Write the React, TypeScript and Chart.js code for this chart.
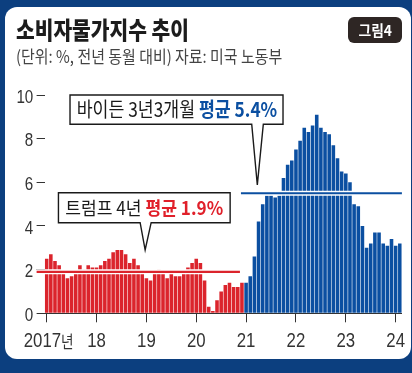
import { useEffect, useRef } from 'react';
import { Chart, registerables } from 'chart.js';

Chart.register(...registerables);

// ---- data (US CPI, % YoY) ----
const START_YEAR = 2017;
const TRUMP_CPI = [
  2.5, 2.7, 2.4, 2.2, 1.9, 1.6, 1.7, 1.9, 2.2, 2.0, 2.2, 2.1,
  2.1, 2.2, 2.4, 2.5, 2.8, 2.9, 2.9, 2.7, 2.3, 2.5, 2.2, 1.9,
  1.6, 1.5, 1.9, 2.0, 1.8, 1.6, 1.8, 1.7, 1.7, 1.8, 2.1, 2.3,
  2.5, 2.3, 1.5, 0.3, 0.1, 0.6, 1.0, 1.3, 1.4, 1.2, 1.2, 1.4,
];
const BIDEN_CPI = [
  1.4, 1.7, 2.6, 4.2, 5.0, 5.4, 5.4, 5.3, 5.4, 6.2, 6.8, 7.0,
  7.5, 7.9, 8.5, 8.3, 8.6, 9.1, 8.5, 8.3, 8.2, 7.7, 7.1, 6.5,
  6.4, 6.0, 5.0, 4.9, 4.0, 3.0, 3.2, 3.7, 3.7, 3.2, 3.1, 3.4,
  3.1, 3.2,
];
const YEAR_TICK_LABELS = ['2017년', '18', '19', '20', '21', '22', '23', '24'];
const Y_MIN = 0;
const Y_MAX = 10;
const Y_STEP = 2;
const TRUMP_AVG_LEVEL = 1.9;
const BIDEN_AVG_LEVEL = 5.5;
const TRUMP_LABEL = ['트럼프 4년 ', '평균 1.9%'];
const BIDEN_LABEL = ['바이든 3년3개월 ', '평균 5.4%'];

const MONTH_LABELS = [...TRUMP_CPI, ...BIDEN_CPI].map(
  (_, i) => `${START_YEAR + Math.floor(i / 12)}-${String((i % 12) + 1).padStart(2, '0')}`
);

// ---- styles ----
const RED = '#db242c';
const BLUE = '#0b4fa1';
const NAVY = '#0c3f7f';
const AXIS = '#333333';

type Part = { text: string; color: string; bold: boolean };
type Callout = {
  tipIndex: number;
  tipValue: number;
  box: { l: number; r: number; t: number; b: number };
  base: [number, number];
  parts: Part[];
  fontSize: number;
  textWidth: number;
  inset: number;
};

const CALLOUTS: Callout[] = [
  {
    tipIndex: 50.7,
    tipValue: 5.88,
    box: { l: -187.3, r: 25.7, t: -90, b: -60.7 },
    base: [-5.6, 6],
    parts: [
      { text: BIDEN_LABEL[0], color: '#1a1a1a', bold: false },
      { text: BIDEN_LABEL[1], color: BLUE, bold: true },
    ],
    fontSize: 20,
    textWidth: 200.5,
    inset: 6.7,
  },
  {
    tipIndex: 23.7,
    tipValue: 2.9,
    box: { l: -86.7, r: 85, t: -57.3, b: -27.3 },
    base: [-5, 6],
    parts: [
      { text: TRUMP_LABEL[0], color: '#1a1a1a', bold: false },
      { text: TRUMP_LABEL[1], color: '#e0202a', bold: true },
    ],
    fontSize: 18.5,
    textWidth: 158,
    inset: 6.7,
  },
];

const CJK = '"Noto Sans CJK KR", "Noto Sans", sans-serif';
const LATIN = '"Liberation Sans", Arial, sans-serif';

function drawCallout(ctx: CanvasRenderingContext2D, chart: any, c: Callout) {
  const xs = chart.scales.x;
  const ys = chart.scales.y;
  const tx = xs.getPixelForValue(c.tipIndex);
  const ty = ys.getPixelForValue(c.tipValue);
  const l = tx + c.box.l, r = tx + c.box.r, t = ty + c.box.t, b = ty + c.box.b;
  ctx.save();
  ctx.beginPath();
  ctx.moveTo(l, t);
  ctx.lineTo(r, t);
  ctx.lineTo(r, b);
  ctx.lineTo(tx + c.base[1], b);
  ctx.lineTo(tx, ty);
  ctx.lineTo(tx + c.base[0], b);
  ctx.lineTo(l, b);
  ctx.closePath();
  ctx.fillStyle = '#ffffff';
  ctx.fill();
  ctx.lineWidth = 1.4;
  ctx.strokeStyle = '#1a1a1a';
  ctx.lineJoin = 'miter';
  ctx.stroke();

  let total = 0;
  for (const p of c.parts) {
    ctx.font = `${p.bold ? 'bold ' : ''}${c.fontSize}px ${CJK}`;
    total += ctx.measureText(p.text).width;
  }
  const sx = c.textWidth / total;
  let x = l + c.inset;
  const y = (t + b) / 2;
  ctx.textBaseline = 'middle';
  ctx.textAlign = 'left';
  for (const p of c.parts) {
    ctx.font = `${p.bold ? 'bold ' : ''}${c.fontSize}px ${CJK}`;
    const w = ctx.measureText(p.text).width;
    ctx.save();
    ctx.translate(x, y);
    ctx.scale(sx, 1);
    ctx.fillStyle = p.color;
    ctx.fillText(p.text, 0, 0);
    ctx.restore();
    x += w * sx;
  }
  ctx.restore();
}

function drawAvgLine(ctx: CanvasRenderingContext2D, y: number, x1: number, x2: number, color: string) {
  ctx.save();
  ctx.lineCap = 'butt';
  ctx.strokeStyle = '#ffffff';
  ctx.lineWidth = 5;
  ctx.beginPath();
  ctx.moveTo(x1, y);
  ctx.lineTo(x2, y);
  ctx.stroke();
  ctx.strokeStyle = color;
  ctx.lineWidth = 2.2;
  ctx.beginPath();
  ctx.moveTo(x1, y);
  ctx.lineTo(x2, y);
  ctx.stroke();
  ctx.restore();
}

const overlayPlugin = {
  id: 'overlay',
  afterDraw(chart: any) {
    const ctx: CanvasRenderingContext2D = chart.ctx;
    const xs = chart.scales.x;
    const ys = chart.scales.y;
    const area = chart.chartArea;
    const lastTrump = TRUMP_CPI.length - 1;

    drawAvgLine(
      ctx,
      ys.getPixelForValue(TRUMP_AVG_LEVEL),
      area.left - 8,
      xs.getPixelForValue(lastTrump) - 2,
      RED
    );
    drawAvgLine(
      ctx,
      ys.getPixelForValue(BIDEN_AVG_LEVEL),
      xs.getPixelForValue(lastTrump) - 1,
      area.right,
      BLUE
    );

    for (const c of CALLOUTS) drawCallout(ctx, chart, c);

    // y tick labels (condensed)
    ctx.save();
    ctx.fillStyle = AXIS;
    ctx.font = `19px ${LATIN}`;
    ctx.textAlign = 'right';
    ctx.textBaseline = 'alphabetic';
    for (const tk of ys.ticks) {
      const py = ys.getPixelForValue(tk.value);
      ctx.save();
      ctx.translate(area.left - 11.3, py + 7.8);
      ctx.scale(0.8, 1);
      ctx.fillText(String(tk.label), 0, 0);
      ctx.restore();
    }
    ctx.restore();

    // x tick labels (condensed); a trailing hangul unit is set a little smaller
    ctx.save();
    ctx.fillStyle = AXIS;
    ctx.textBaseline = 'alphabetic';
    ctx.textAlign = 'left';
    const sx = 0.8;
    YEAR_TICK_LABELS.forEach((lab, k) => {
      const px = xs.getPixelForValue(k * 12);
      const m = lab.match(/^([0-9]+)(.*)$/);
      const num = m ? m[1] : lab;
      const unit = m ? m[2] : '';
      ctx.font = `21px ${LATIN}`;
      const wNum = ctx.measureText(num).width * sx;
      ctx.font = `17px ${CJK}`;
      const wUnit = unit ? ctx.measureText(unit).width * 0.8 : 0;
      let x = px - (wNum + wUnit) / 2 + (unit ? 2 : 0);
      const baseY = area.bottom + 33.2;
      ctx.save();
      ctx.translate(x, baseY);
      ctx.scale(sx, 1);
      ctx.font = `21px ${LATIN}`;
      ctx.fillText(num, 0, 0);
      ctx.restore();
      if (unit) {
        x += wNum;
        ctx.save();
        ctx.translate(x, baseY + 1);
        ctx.scale(0.8, 1);
        ctx.font = `17px ${CJK}`;
        ctx.fillText(unit, 0, 0);
        ctx.restore();
      }
    });
    ctx.restore();
  },
};

function ChartCanvas() {
  const ref = useRef<HTMLCanvasElement | null>(null);
  useEffect(() => {
    if (!ref.current) return;
    const nT = TRUMP_CPI.length;
    const nB = BIDEN_CPI.length;
    const chart = new Chart(ref.current, {
      type: 'bar',
      data: {
        labels: MONTH_LABELS,
        datasets: [
          {
            label: '트럼프',
            data: [...TRUMP_CPI, ...new Array(nB).fill(null)],
            backgroundColor: RED,
            grouped: false,
            barPercentage: 0.86,
            categoryPercentage: 1,
          } as any,
          {
            label: '바이든',
            data: [...new Array(nT).fill(null), ...BIDEN_CPI],
            backgroundColor: BLUE,
            grouped: false,
            barPercentage: 0.86,
            categoryPercentage: 1,
          } as any,
        ],
      },
      options: {
        animation: false,
        responsive: false,
        maintainAspectRatio: false,
        devicePixelRatio: 1,
        layout: { padding: { top: 95, right: 10.1, left: 0, bottom: 0 } },
        plugins: { legend: { display: false }, tooltip: { enabled: false } },
        events: [],
        scales: {
          x: {
            type: 'category',
            offset: true,
            z: 1,
            grid: {
              offset: false,
              drawOnChartArea: false,
              drawTicks: true,
              tickLength: 9,
              lineWidth: 1,
              color: (c: any) => (c.index % 12 === 0 ? AXIS : 'rgba(0,0,0,0)'),
            },
            border: { display: true, color: AXIS, width: 1 },
            ticks: { display: false, autoSkip: false },
            afterFit: (s: any) => {
              s.height = 59.7;
            },
          },
          y: {
            min: Y_MIN,
            max: Y_MAX,
            grid: {
              drawOnChartArea: false,
              drawTicks: true,
              tickLength: 8,
              lineWidth: 1,
              color: AXIS,
            },
            border: { display: false },
            ticks: { display: false, stepSize: Y_STEP },
            afterFit: (s: any) => {
              s.width = 44.6;
            },
          },
        },
      },
      plugins: [overlayPlugin],
    });
    return () => chart.destroy();
  }, []);
  return (
    <canvas
      ref={ref}
      width={412}
      height={373}
      style={{ position: 'absolute', left: 0, top: 0, width: 412, height: 373 }}
    />
  );
}

export default function App() {
  return (
    <div
      style={{
        position: 'absolute',
        left: 0,
        top: 0,
        width: 412,
        height: 373,
        background: NAVY,
        overflow: 'hidden',
      }}
    >
      <div
        style={{
          position: 'absolute',
          left: 5,
          top: 7,
          width: 406,
          height: 352,
          background: '#ffffff',
          borderRadius: 12,
        }}
      />
      <ChartCanvas />
      <div
        style={{
          position: 'absolute',
          left: 15.5,
          top: 16.7,
          fontFamily: CJK,
          fontWeight: 900,
          fontSize: 23.5,
          lineHeight: '24px',
          color: '#1c1c1c',
          whiteSpace: 'nowrap',
          transform: 'scaleX(0.865)',
          transformOrigin: 'left center',
        }}
      >
        소비자물가지수 추이
      </div>
      <div
        style={{
          position: 'absolute',
          left: 16,
          top: 45.8,
          fontFamily: CJK,
          fontWeight: 400,
          fontSize: 17,
          lineHeight: '20px',
          color: '#444444',
          whiteSpace: 'nowrap',
          transform: 'scaleX(0.88)',
          transformOrigin: 'left center',
        }}
      >
        (단위: %, 전년 동월 대비) 자료: 미국 노동부
      </div>
      <div
        style={{
          position: 'absolute',
          left: 348,
          top: 17.3,
          width: 53.7,
          height: 25.4,
          background: '#2e2624',
          borderRadius: 6,
          display: 'flex',
          alignItems: 'center',
          justifyContent: 'center',
        }}
      >
        <span
          style={{
            fontFamily: CJK,
            fontWeight: 700,
            fontSize: 15,
            lineHeight: '16px',
            color: '#ffffff',
            whiteSpace: 'nowrap',
            display: 'inline-block',
            transform: 'scaleX(0.92)',
          }}
        >
          그림4
        </span>
      </div>
    </div>
  );
}
